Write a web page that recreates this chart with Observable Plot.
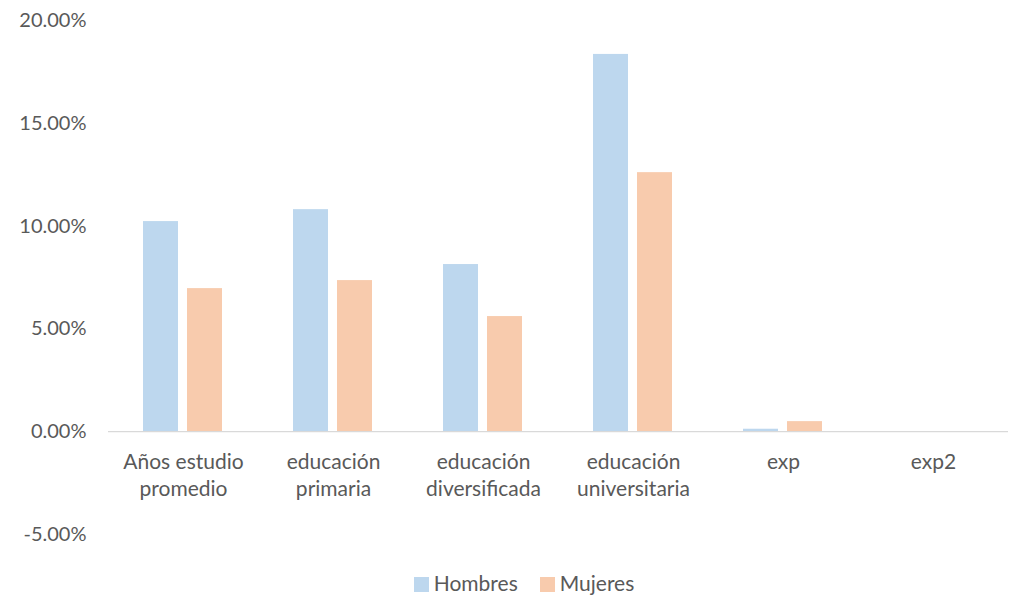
<!DOCTYPE html>
<html>
<head>
<meta charset="utf-8">
<script src="https://cdn.jsdelivr.net/npm/d3@7"></script>
<script src="https://cdn.jsdelivr.net/npm/@observablehq/plot@0.6"></script>
<style>
  body { margin: 0; background: #fff; font-family: Lato, "Open Sans", sans-serif; }
  #legend { display: flex; justify-content: center; align-items: center; gap: 22px; height: 38px; font-size: 21px; color: #595959; padding-left: 38px; }
  #legend span.sw { display: inline-block; width: 15px; height: 15px; margin-right: 5px; vertical-align: -1px; }
</style>
</head>
<body>
<div id="chart"></div>
<div id="legend"></div>
<script>
const categories = ["Años estudio promedio", "educación primaria", "educación diversificada", "educación universitaria", "exp", "exp2"];
const categoryLabels = ["Años estudio\npromedio", "educación\nprimaria", "educación\ndiversificada", "educación\nuniversitaria", "exp", "exp2"];
const series = ["Hombres", "Mujeres"];
const hombres = [10.22, 10.80, 8.13, 18.35, 0.12, -0.01];
const mujeres = [6.96, 7.35, 5.60, 12.60, 0.49, -0.01];
const yTicks = [-5, 0, 5, 10, 15, 20];
const colors = ["#BDD7EE", "#F8CBAD"];

const data = [];
categories.forEach((c, i) => {
  data.push({cat: c, serie: "Hombres", value: hombres[i]});
  data.push({cat: c, serie: "Mujeres", value: mujeres[i]});
});
const labels = categories.map((c, i) => ({cat: c, label: categoryLabels[i], y: 0}));

const chart = Plot.plot({
  width: 1010,
  height: 563,
  marginLeft: 105,
  marginRight: 0,
  marginTop: 20,
  marginBottom: 29,
  style: {fontFamily: "Lato, 'Open Sans', sans-serif", fontSize: "20px", color: "#595959"},
  fx: {domain: categories, padding: 0, axis: null},
  x: {domain: series, paddingInner: 0.2, paddingOuter: 0.8, axis: null},
  y: {domain: [-5, 20], ticks: yTicks, tickFormat: d => d.toFixed(2) + "%", tickSize: 0, tickPadding: 22, label: null},
  color: {domain: series, range: colors},
  marks: [
    Plot.barY(data, {fx: "cat", x: "serie", y: "value", fill: "serie"}),
    Plot.ruleY([0], {stroke: "#D9D9D9", strokeWidth: 1.3}),
    Plot.text(labels, {fx: "cat", y: "y", text: "label", lineAnchor: "top", dy: 17, lineHeight: 1.33, fill: "#595959", fontSize: 21})
  ]
});
document.getElementById("chart").appendChild(chart);

const legend = document.getElementById("legend");
series.forEach((s, i) => {
  const item = document.createElement("div");
  item.innerHTML = `<span class="sw" style="background:${colors[i]}"></span>${s}`;
  legend.appendChild(item);
});
</script>
</body>
</html>
